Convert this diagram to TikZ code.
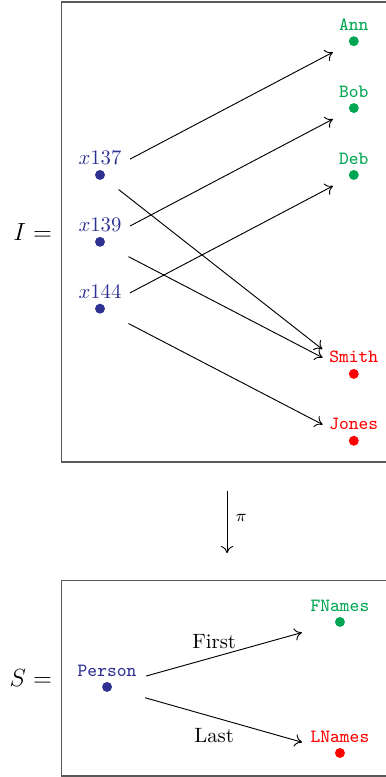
\documentclass[tikz,border=0pt]{standalone}
\usepackage{xcolor}
\usepackage{amsmath,amssymb}
\usepackage{tikz}
\usetikzlibrary{arrows.meta,positioning,calc}
\definecolor{entblue}{HTML}{2E3192}
\definecolor{valgreen}{HTML}{00A651}
\definecolor{valred}{HTML}{FF0000}

\begin{document}
\begin{tikzpicture}[x=1pt,y=1pt,
  node distance=27.1pt and 117.4pt,
  frame/.style={draw=black!65,line width=0.6pt,inner sep=0pt},
  blob/.style={circle,fill=#1,inner sep=0pt,minimum size=4.8pt},
  ent/.style={blob=entblue,label={[text=entblue,inner sep=0pt,label distance=2.2pt]above:#1}},
  fst/.style={blob=valgreen,label={[text=valgreen,font=\small\ttfamily,inner sep=0pt,label distance=2.4pt]above:#1}},
  lst/.style={blob=valred,label={[text=valred,font=\small\ttfamily,inner sep=0pt,label distance=2.4pt]above:#1}},
  arr/.style={-{Computer Modern Rightarrow[length=3.5pt,width=6pt]},line width=0.45pt},
  lbl/.style={inner sep=0pt},
  ttl/.style={font=\large,inner sep=0pt}]
  \useasboundingbox (0,0) rectangle (186,-375.3);
  % instance I
  \node[frame,minimum width=159.7pt,minimum height=222.2pt] (Ibox) at (109.65,-112.05) {};
  \node[ttl,left=4.2pt of Ibox] (Ilbl) {$I=$};
  \node[ent={$x137$}] (x137) at (48.3,-84.5) {};
  \node[ent={$x139$},below=of x137] (x139) {};
  \node[ent={$x144$},below=of x139] (x144) {};
  \node[fst=Deb,right=of x137] (Deb) {};
  \node[fst=Bob,above=of Deb] (Bob) {};
  \node[fst=Ann,above=of Bob] (Ann) {};
  \node[lst=Smith,below=90.9pt of Deb] (Smith) {};
  \node[lst=Jones,below=of Smith] (Jones) {};
  \foreach \a/\b/\s/\e in {x137/Ann/16.4/11.4,x139/Bob/16.4/11.4,x144/Deb/16.4/11.4,x137/Smith/11.4/19.3,x139/Smith/15.5/17,x144/Jones/15.5/17}
    \draw[arr,shorten <=\s pt,shorten >=\e pt] (\a.center) -- (\b.center);
  % schema S
  \node[frame,minimum width=159.7pt,minimum height=94.3pt] (Sbox) at (109.65,-327.65) {};
  \node[ttl,left=4.2pt of Sbox] (Slbl) {$S=$};
  \node[ent={\small\ttfamily Person}] (Person) at (51.7,-331.8) {};
  \node[fst=FNames] (FNames) at (164.2,-300.4) {};
  \node[lst=LNames] (LNames) at (164.2,-363.7) {};
  \draw[arr,shorten <=19.6pt,shorten >=19.1pt] (Person.center) -- (FNames.center) node[lbl,pos=0.46,above=3.8pt] {First};
  \draw[arr,shorten <=19.1pt,shorten >=19pt] (Person.center) -- (LNames.center) node[lbl,pos=0.46,below=5pt] {Last};
  \draw[arr,shorten <=13.6pt,shorten >=13pt] (Ibox.south) -- (Sbox.north) node[lbl,pos=0.47,right=4pt,font=\footnotesize] {$\pi$};
\end{tikzpicture}
\end{document}
